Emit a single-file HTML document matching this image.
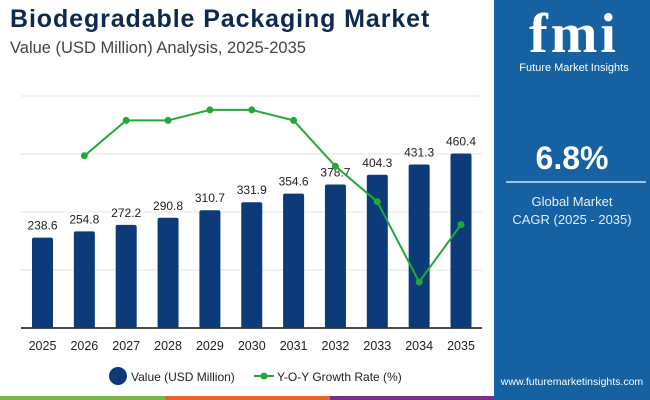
<!DOCTYPE html>
<html><head><meta charset="utf-8"><style>
body{margin:0;width:650px;height:400px;overflow:hidden;background:#fff;font-family:"Liberation Sans",sans-serif;position:relative}
.t{position:absolute;left:10px;top:5px;font-size:25px;font-weight:bold;color:#0d2a4e;letter-spacing:0.9px}
.st{position:absolute;left:10px;top:39px;font-size:16.5px;color:#444}
.panel{position:absolute;left:494px;top:0;width:156px;height:400px;background:#1561a1}
</style></head><body>
<div class="t">Biodegradable Packaging Market</div>
<div class="st">Value (USD Million) Analysis, 2025-2035</div>
<div class="panel">
  <div style="position:absolute;left:18px;top:6px;width:124px;text-align:center;color:#fff">
    <div style="font-family:'Liberation Serif',serif;font-size:56px;font-weight:bold;line-height:56px;letter-spacing:3px">fmi</div>
    <div style="font-size:11px">Future Market Insights</div>
  </div>
  <div style="position:absolute;left:0;width:156px;top:140px;text-align:center;color:#fff;font-size:32px;font-weight:bold">6.8%</div>
  <div style="position:absolute;left:12px;width:140px;top:181px;height:2px;background:#9ec3e6"></div>
  <div style="position:absolute;left:0;width:156px;top:193px;text-align:center;color:#e8f0f8;font-size:13px;line-height:18px">Global Market<br>CAGR (2025 - 2035)</div>
  <div style="position:absolute;left:0;width:156px;top:376px;text-align:center;color:#fff;font-size:10.5px">www.futuremarketinsights.com</div>
</div>
<div style="position:absolute;left:0;top:396px;width:165px;height:4px;background:#7ab648"></div>
<div style="position:absolute;left:165px;top:396px;width:165px;height:4px;background:#e8662b"></div>
<div style="position:absolute;left:330px;top:396px;width:164px;height:4px;background:#7b2d8e"></div>
<svg id="c" width="494" height="396" style="position:absolute;left:0;top:0"></svg>
<script>
const categories=["2025","2026","2027","2028","2029","2030","2031","2032","2033","2034","2035"];
const values=[238.6,254.8,272.2,290.8,310.7,331.9,354.6,378.7,404.3,431.3,460.4];
const growth=[null,6.792,6.829,6.829,6.84,6.84,6.829,6.781,6.744,6.66,6.72];
const gridLevels=[0,1,2,3,4];
const NS="http://www.w3.org/2000/svg",svg=document.getElementById('c');
function mk(t,a){const e=document.createElementNS(NS,t);for(const k in a)e.setAttribute(k,a[k]);svg.appendChild(e);return e;}
const base=328,x0=42.5,step=41.85,bw=21;
const xs=i=>x0+i*step, yv=v=>base-v*0.379, yg=g=>282-(g-6.66)*956;
gridLevels.forEach(g=>{const y=base-g*58;const l=mk('line',{x1:21,x2:482,y1:y,y2:y,stroke:g?'#e6e6e6':'#111','stroke-width':g?1:1.5});
});
values.forEach((v,i)=>{const r=mk('rect',{x:xs(i)-bw/2,y:yv(v),width:bw,height:base-yv(v),fill:'#0d3b7a',rx:2});

const t=mk('text',{x:xs(i),y:yv(v)-8,'text-anchor':'middle','font-size':12,fill:'#222'});t.textContent=v.toFixed(1);

const c=mk('text',{x:xs(i),y:350,'text-anchor':'middle','font-size':12.5,fill:'#222'});c.textContent=categories[i];
});
const pts=growth.map((g,i)=>g==null?null:[xs(i),yg(g)]).filter(p=>p);
const pl=mk('polyline',{points:pts.map(p=>p.join(',')).join(' '),fill:'none',stroke:'#22a838','stroke-width':2});

pts.forEach(p=>{const c=mk('circle',{cx:p[0],cy:p[1],r:3.5,fill:'#22a838'});});
const lc=mk('circle',{cx:118,cy:376,r:9,fill:'#0d3b7a'});
const lt=mk('text',{x:131,y:381,'font-size':12,fill:'#222'});lt.textContent='Value (USD Million)';
const ll=mk('line',{x1:254,x2:274,y1:376,y2:376,stroke:'#22a838','stroke-width':2});
const lp=mk('circle',{cx:264,cy:376,r:3.5,fill:'#22a838'});
const lg=mk('text',{x:277,y:381,'font-size':12,fill:'#222'});lg.textContent='Y-O-Y Growth Rate (%)';
</script>
</body></html>
